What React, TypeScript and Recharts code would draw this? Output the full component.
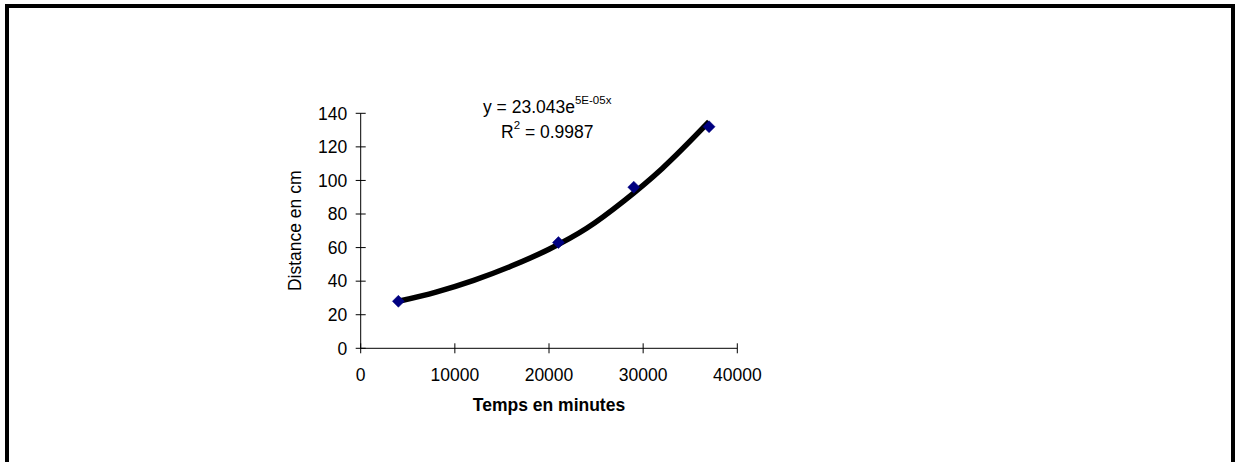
import React from 'react';
import { ComposedChart, XAxis, YAxis, Scatter, Line, Customized } from 'recharts';

const timeMinutes = [4000, 21000, 29000, 37000];
const distanceCm = [28, 63, 96, 132];

const trendTime = [4000, 8000, 12000, 16000, 20000, 24000, 28000, 32000, 37000];
const trendDistance = [28, 33.5, 40.5, 49, 59, 71.5, 88, 107, 135];

const xTicks = [0, 10000, 20000, 30000, 40000];
const yTicks = [0, 20, 40, 60, 80, 100, 120, 140];

const equationMain = 'y = 23.043e';
const equationExp = '5E-05x';
const r2Label = 'R';
const r2Value = ' = 0.9987';

const xTitle = 'Temps en minutes';
const yTitle = 'Distance en cm';

const points = timeMinutes.map((x, i) => ({ x, y: distanceCm[i] }));
const trend = trendTime.map((x, i) => ({ x, y: trendDistance[i] }));

const FONT = '"Liberation Sans", Arial, sans-serif';
const FS = 17.5;

const Diamond = (props: any) => {
  const { cx, cy } = props;
  if (cx == null || cy == null) return null;
  const r = 6;
  return (
    <polygon
      points={`${cx},${cy - r} ${cx + r},${cy} ${cx},${cy + r} ${cx - r},${cy}`}
      fill="#000080"
      stroke="#000080"
      strokeWidth={0.5}
    />
  );
};

const Equation = () => (
  <g fontFamily={FONT} fill="#000">
    <text x={483} y={113} fontSize={FS}>
      {equationMain}
      <tspan fontSize={11.5} dy={-9}>{equationExp}</tspan>
    </text>
    <text x={501} y={138} fontSize={FS}>
      {r2Label}
      <tspan fontSize={11.5} dy={-9}>2</tspan>
      <tspan dy={9}>{r2Value}</tspan>
    </text>
  </g>
);

export default function App() {
  return (
    <div style={{ position: 'absolute', left: 0, top: 0, width: 1236, height: 462, background: '#fff', overflow: 'hidden' }}>
      <div
        style={{
          position: 'absolute',
          left: 5,
          top: 4,
          width: 1222,
          height: 500,
          borderTop: '4px solid #000',
          borderLeft: '4px solid #000',
          borderRight: '4px solid #000',
        }}
      />
      <div style={{ position: 'absolute', left: 0, top: 0 }}>
        <ComposedChart
          width={1236}
          height={462}
          margin={{ top: 113.3, right: 498.7, left: 280.7, bottom: 43.7 }}
        >
          <XAxis
            type="number"
            dataKey="x"
            domain={[0, 40000]}
            ticks={xTicks}
            interval={0}
            height={70}
            stroke="#000"
            tickSize={10}
            tickMargin={10.5}
            tickLine={{ stroke: '#000', transform: 'translate(0,-5)' }}
            tick={{ fill: '#000', fontSize: FS, fontFamily: FONT }}
            label={{
              value: xTitle,
              position: 'insideBottom',
              offset: 7.3,
              style: { fontSize: FS, fontWeight: 'bold', fontFamily: FONT, fill: '#000' },
            }}
          />
          <YAxis
            type="number"
            dataKey="y"
            domain={[0, 140]}
            ticks={yTicks}
            interval={0}
            width={80}
            stroke="#000"
            tickSize={10}
            tickMargin={3.5}
            tickLine={{ stroke: '#000', transform: 'translate(5,0)' }}
            tick={{ fill: '#000', fontSize: FS, fontFamily: FONT }}
            label={{
              value: yTitle,
              angle: -90,
              position: 'insideLeft',
              offset: 13.8,
              style: { fontSize: FS, fontFamily: FONT, fill: '#000', textAnchor: 'middle' },
            }}
          />
          <Scatter data={points} dataKey="y" shape={<Diamond />} isAnimationActive={false} />
          <Line
            data={trend}
            dataKey="y"
            type="monotone"
            stroke="#000"
            strokeWidth={5.5}
            dot={false}
            activeDot={false}
            isAnimationActive={false}
          />
          <Customized component={Equation} />
        </ComposedChart>
      </div>
    </div>
  );
}
